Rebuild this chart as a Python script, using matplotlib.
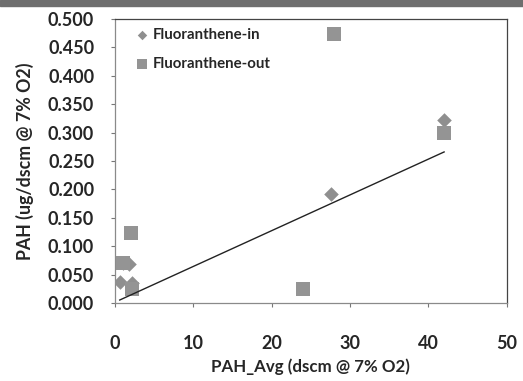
import numpy as np
import matplotlib.pyplot as plt
from matplotlib.patches import Rectangle

# Fluoranthene concentrations vs averaged sample volume
x_in = [0.6, 1.0, 1.8, 2.2, 27.6, 42.0]
y_in = [0.037, 0.070, 0.068, 0.035, 0.192, 0.322]

x_out = [1.0, 2.0, 2.2, 24.0, 28.0, 42.0]
y_out = [0.070, 0.123, 0.025, 0.025, 0.474, 0.299]

# linear trendline (slope, intercept)
trend_slope = 0.0063
trend_intercept = 0.0013

xticks = [0, 10, 20, 30, 40, 50]
yticks = [0.0, 0.05, 0.10, 0.15, 0.20, 0.25, 0.30, 0.35, 0.40, 0.45, 0.50]

plt.rcParams['font.family'] = ['Lato', 'DejaVu Sans']
plt.rcParams['font.weight'] = 'bold'

fig = plt.figure(figsize=(5.23, 3.81), dpi=100)
ax = fig.add_axes([0.220, 0.205, 0.749, 0.745])

# dark band along the top edge
fig.patches.append(Rectangle((0, 0.985), 1, 0.015, transform=fig.transFigure,
                             color='#6e6e6e', zorder=0))

ax.scatter(x_in, y_in, marker='D', s=55, color='#8f8f8f', label='Fluoranthene-in',
           zorder=3, linewidths=0)
ax.scatter(x_out, y_out, marker='s', s=100, color='#949494', label='Fluoranthene-out',
           zorder=3, linewidths=0)

xs = np.array([min(x_in + x_out), max(x_in + x_out)])
ax.plot(xs, trend_intercept + trend_slope * xs, color='#222222', lw=1.0, zorder=4)

ax.set_xlim(0, 50)
ax.set_ylim(0, 0.5)
ax.set_xticks(xticks)
ax.set_yticks(yticks)
ax.set_yticklabels([f'{v:.3f}' for v in yticks])
ax.tick_params(axis='both', direction='out', length=3, width=0.8, colors='#777777',
               labelcolor='#262626', labelsize=13)
ax.tick_params(axis='x', pad=20)
ax.tick_params(axis='y', pad=12)

for side in ['left', 'bottom']:
    ax.spines[side].set_color('#8a8a8a')
for side in ['top', 'right']:
    ax.spines[side].set_color('#444444')
for sp in ax.spines.values():
    sp.set_linewidth(0.9)

ax.set_xlabel('PAH_Avg (dscm @ 7% O2)', fontsize=12.2, fontweight='bold',
              color='#262626', labelpad=5)
ax.set_ylabel('PAH (ug/dscm @ 7% O2)', fontsize=12.8, fontweight='bold',
              color='#262626', labelpad=10)

leg = ax.legend(loc='upper left', frameon=False, fontsize=10.8, handletextpad=0.0,
                handlelength=1.4, labelspacing=1.0, borderaxespad=0.2,
                markerscale=0.65, bbox_to_anchor=(0.02, 1.0))
for t in leg.get_texts():
    t.set_color('#262626')
    t.set_fontweight('bold')

fig.savefig('out.png', dpi=100)
